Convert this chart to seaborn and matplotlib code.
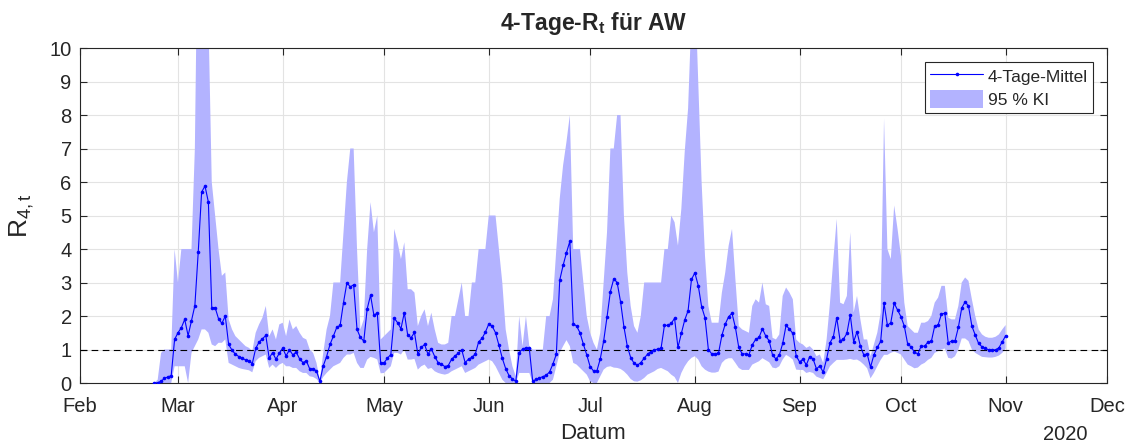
import numpy as np
import pandas as pd
import matplotlib
matplotlib.use("Agg")
import matplotlib.pyplot as plt
import matplotlib.dates as mdates
from matplotlib.patches import Patch
from matplotlib.lines import Line2D
import seaborn as sns

# daily values, first day 2020-02-23, last day 2020-11-01
start_date = "2020-02-23"

r_mean = [
    0.00, 0.01, 0.05, 0.14, 0.18, 0.22, 1.30, 1.50, 1.65, 1.90,
    1.41, 1.86, 2.31, 3.91, 5.70, 5.88, 5.40, 2.25, 2.25, 1.92,
    1.78, 2.00, 1.15, 0.98, 0.86, 0.79, 0.74, 0.69, 0.66, 0.58,
    1.03, 1.22, 1.32, 1.42, 0.74, 0.91, 0.71, 0.89, 1.04, 0.81,
    0.99, 0.84, 0.92, 0.72, 0.61, 0.66, 0.42, 0.42, 0.36, 0.05,
    0.51, 0.79, 1.15, 1.40, 1.66, 1.72, 2.40, 2.99, 2.87, 2.93,
    1.60, 1.36, 1.25, 2.21, 2.62, 2.02, 2.09, 0.60, 0.60, 0.74,
    0.85, 1.94, 1.80, 1.62, 2.10, 1.43, 1.35, 1.51, 0.86, 1.06,
    1.15, 0.86, 1.02, 0.79, 0.61, 0.56, 0.49, 0.52, 0.71, 0.81,
    0.89, 0.99, 0.61, 0.71, 0.77, 0.86, 1.23, 1.33, 1.52, 1.76,
    1.70, 1.50, 1.13, 0.74, 0.43, 0.22, 0.12, 0.05, 0.91, 1.01,
    1.05, 1.03, 0.05, 0.11, 0.15, 0.19, 0.23, 0.33, 0.57, 0.86,
    3.07, 3.51, 3.89, 4.23, 1.77, 1.70, 1.50, 1.16, 0.84, 0.49,
    0.36, 0.36, 0.72, 1.25, 1.97, 2.73, 3.11, 3.00, 2.43, 1.68,
    1.10, 0.76, 0.59, 0.53, 0.61, 0.74, 0.86, 0.94, 0.99, 1.01,
    1.04, 1.72, 1.72, 1.78, 1.93, 1.06, 1.48, 1.88, 2.16, 3.09,
    3.29, 2.91, 2.28, 1.95, 1.00, 0.87, 0.87, 0.89, 1.42, 1.76,
    1.98, 2.08, 1.66, 1.06, 0.87, 0.87, 0.84, 1.14, 1.30, 1.36,
    1.62, 1.40, 1.26, 0.83, 0.72, 0.83, 1.18, 1.72, 1.61, 1.48,
    0.81, 0.63, 0.71, 0.54, 0.79, 0.72, 0.42, 0.51, 0.32, 0.72,
    1.20, 1.38, 1.95, 1.26, 1.31, 1.48, 2.03, 1.23, 1.53, 1.10,
    0.84, 0.87, 0.47, 0.84, 1.06, 1.24, 2.38, 1.72, 1.80, 2.38,
    2.18, 1.98, 1.70, 1.16, 1.08, 0.92, 0.87, 1.10, 1.10, 1.22,
    1.24, 1.70, 1.73, 2.06, 2.08, 1.20, 1.25, 1.25, 1.66, 2.24,
    2.42, 2.30, 1.70, 1.43, 1.18, 1.08, 1.03, 0.99, 0.99, 0.99,
    1.05, 1.23, 1.41,
]

ci_lower = [
    0.00, 0.00, 0.00, 0.00, 0.00, 0.00, 0.50, 0.50, 0.50, 0.50,
    0.00, 0.90, 1.10, 1.30, 1.60, 1.60, 1.50, 1.15, 1.10, 1.20,
    1.20, 1.30, 0.60, 0.55, 0.50, 0.45, 0.42, 0.40, 0.38, 0.32,
    0.65, 0.75, 0.80, 0.85, 0.45, 0.55, 0.45, 0.55, 0.60, 0.50,
    0.50, 0.45, 0.45, 0.35, 0.30, 0.30, 0.20, 0.18, 0.12, 0.00,
    0.18, 0.30, 0.40, 0.50, 0.55, 0.60, 0.75, 0.85, 0.85, 0.90,
    0.60, 0.45, 0.45, 0.70, 0.78, 0.75, 0.70, 0.29, 0.30, 0.40,
    0.50, 0.90, 0.90, 0.85, 1.00, 0.70, 0.70, 0.72, 0.40, 0.50,
    0.55, 0.42, 0.45, 0.35, 0.30, 0.27, 0.25, 0.28, 0.35, 0.40,
    0.45, 0.50, 0.30, 0.35, 0.40, 0.45, 0.55, 0.60, 0.65, 0.70,
    0.65, 0.50, 0.30, 0.10, 0.00, 0.00, 0.00, 0.00, 0.30, 0.30,
    0.30, 0.30, 0.00, 0.00, 0.00, 0.00, 0.00, 0.00, 0.10, 0.50,
    0.90, 1.10, 1.28, 1.10, 0.60, 0.55, 0.45, 0.35, 0.25, 0.05,
    0.00, 0.00, 0.20, 0.40, 0.48, 0.50, 0.46, 0.45, 0.42, 0.35,
    0.25, 0.12, 0.05, 0.04, 0.08, 0.15, 0.25, 0.30, 0.35, 0.42,
    0.45, 0.40, 0.35, 0.25, 0.18, 0.00, 0.30, 0.50, 0.65, 0.75,
    0.80, 0.70, 0.50, 0.40, 0.34, 0.31, 0.31, 0.34, 0.60, 0.70,
    0.74, 0.74, 0.60, 0.45, 0.39, 0.39, 0.39, 0.55, 0.60, 0.65,
    0.74, 0.68, 0.62, 0.46, 0.44, 0.50, 0.70, 0.84, 0.78, 0.70,
    0.40, 0.39, 0.39, 0.30, 0.33, 0.30, 0.19, 0.15, 0.11, 0.30,
    0.50, 0.60, 0.69, 0.69, 0.69, 0.70, 0.72, 0.69, 0.70, 0.64,
    0.55, 0.44, 0.14, 0.30, 0.50, 0.69, 0.84, 0.84, 0.90, 0.94,
    0.90, 0.85, 0.70, 0.55, 0.50, 0.44, 0.46, 0.55, 0.60, 0.69,
    0.75, 0.90, 0.95, 1.00, 1.03, 0.75, 0.73, 0.80, 1.00, 1.33,
    1.33, 1.25, 1.00, 0.90, 0.84, 0.78, 0.77, 0.76, 0.76, 0.78,
    0.82, 0.90, 1.03,
]

ci_upper = [
    0.00, 0.10, 0.90, 1.00, 1.00, 1.00, 4.00, 3.00, 4.00, 4.00,
    4.00, 4.00, 7.00, 15.0, 15.0, 15.0, 11.0, 6.00, 5.00, 4.00,
    3.20, 3.30, 1.90, 1.60, 1.40, 1.30, 1.20, 1.10, 1.05, 0.95,
    1.50, 1.75, 1.95, 2.30, 1.40, 1.60, 1.30, 1.75, 1.80, 1.40,
    1.90, 1.60, 1.70, 1.50, 1.35, 1.30, 1.00, 0.90, 0.60, 0.08,
    0.90, 1.60, 2.00, 3.00, 3.00, 3.00, 4.50, 6.00, 7.00, 7.00,
    4.00, 1.60, 1.90, 4.00, 5.40, 4.50, 5.00, 1.30, 1.40, 1.50,
    1.60, 4.60, 4.20, 3.70, 4.20, 2.80, 2.80, 2.70, 1.70, 2.00,
    2.20, 1.70, 2.10, 1.60, 1.20, 1.15, 1.15, 1.20, 2.00, 2.00,
    2.50, 3.00, 2.00, 2.00, 3.00, 3.00, 4.00, 4.00, 4.00, 5.00,
    5.00, 5.00, 4.00, 3.00, 1.60, 1.00, 0.50, 0.20, 2.00, 1.10,
    2.00, 1.10, 1.00, 1.00, 1.00, 1.00, 2.00, 2.00, 2.50, 4.00,
    5.50, 6.50, 7.20, 8.00, 4.00, 4.00, 4.00, 3.00, 2.00, 1.50,
    1.20, 1.00, 1.50, 3.00, 4.50, 7.00, 7.00, 8.00, 8.00, 5.00,
    3.30, 2.30, 1.70, 1.50, 2.00, 3.00, 3.00, 3.00, 3.00, 3.00,
    3.00, 4.00, 4.00, 5.00, 4.80, 4.10, 5.20, 6.90, 8.20, 11.0,
    12.0, 9.00, 6.00, 3.80, 2.30, 1.80, 1.80, 1.80, 2.70, 3.30,
    4.10, 4.60, 3.10, 1.70, 1.60, 1.55, 1.50, 2.30, 2.50, 2.40,
    3.00, 2.35, 2.30, 1.35, 1.30, 1.45, 2.60, 2.85, 2.70, 2.50,
    1.30, 1.20, 1.15, 1.05, 1.10, 1.00, 0.80, 0.85, 0.60, 1.30,
    2.40, 3.70, 4.90, 2.40, 2.35, 2.60, 4.50, 2.10, 2.60, 1.90,
    1.30, 1.30, 0.80, 1.15, 1.50, 2.10, 7.90, 4.00, 3.70, 5.30,
    4.60, 3.80, 2.40, 1.70, 1.60, 1.50, 1.50, 1.80, 1.80, 1.85,
    2.00, 2.40, 2.55, 2.90, 2.90, 1.95, 1.90, 1.90, 2.30, 3.00,
    3.15, 3.05, 2.50, 2.00, 1.60, 1.45, 1.38, 1.35, 1.35, 1.38,
    1.45, 1.60, 1.73,
]

title_text = r"4-Tage-R$_\mathbf{t}$ für AW"
y_label = r"R$_{4,t}$"
x_label = "Datum"
year_label = "2020"
legend_labels = ["4-Tage-Mittel", "95 % KI"]

df = pd.DataFrame({
    "datum": pd.date_range(start_date, periods=len(r_mean), freq="D"),
    "mittel": r_mean,
    "unten": ci_lower,
    "oben": ci_upper,
})

sns.set_style("ticks")
plt.rcParams["font.family"] = ["Liberation Sans", "DejaVu Sans"]
plt.rcParams["mathtext.fontset"] = "custom"
plt.rcParams["mathtext.rm"] = "Liberation Sans"
plt.rcParams["mathtext.it"] = "Liberation Sans"
plt.rcParams["mathtext.bf"] = "Liberation Sans:bold"
plt.rcParams["mathtext.default"] = "regular"

fig = plt.figure(figsize=(11.33, 4.48), dpi=100)
ax = fig.add_axes([80 / 1133, 1 - 383 / 448, 1027 / 1133, 335 / 448])

band_color = (0.7, 0.7, 1.0)
ax.fill_between(df["datum"], df["unten"], df["oben"], color=band_color,
                linewidth=0, zorder=2)
sns.lineplot(data=df, x="datum", y="mittel", ax=ax, color="blue",
             linewidth=0.8, marker="o", markersize=2.6, markeredgewidth=0,
             zorder=4, legend=False)
ax.axhline(1, color="black", linestyle=(0, (6, 4)), linewidth=0.8, zorder=3)

ax.set_xlim(pd.Timestamp("2020-02-01"), pd.Timestamp("2020-12-01"))
ax.set_ylim(0, 10)
ax.set_yticks(range(0, 11))
ax.xaxis.set_major_locator(mdates.MonthLocator())
ax.xaxis.set_major_formatter(mdates.DateFormatter("%b"))

ax.grid(True, color="#e3e3e3", linewidth=0.8, zorder=0)
ax.set_axisbelow(True)
for s in ax.spines.values():
    s.set_color("#262626")
    s.set_linewidth(0.8)
ax.tick_params(direction="in", length=5, width=0.8, colors="#262626",
               labelsize=14.5, top=True, right=True, labelcolor="#262626")
ax.tick_params(axis="x", pad=10)
ax.tick_params(axis="y", pad=6)

ax.set_title(title_text, fontsize=16.5, fontweight="bold", pad=13)
ax.set_ylabel(y_label, fontsize=19, labelpad=10)
ax.set_xlabel(x_label, fontsize=16, labelpad=5)
fig.text(1065 / 1133, 1 - 434 / 448, year_label, ha="center", va="center",
         fontsize=14.5, color="#262626")

handles = [
    Line2D([0], [0], color="blue", linewidth=0.8, marker="o", markersize=2.6,
           markeredgewidth=0),
    Patch(facecolor=band_color, edgecolor="none"),
]
leg = ax.legend(handles, legend_labels, loc="upper right", fontsize=12.5,
                fancybox=False, framealpha=1, edgecolor="#262626",
                borderaxespad=0.8, handlelength=3.0, handleheight=1.2,
                borderpad=0.3, labelspacing=0.3, handletextpad=0.3)
leg.get_frame().set_linewidth(0.8)

fig.savefig("out.png", dpi=100)
